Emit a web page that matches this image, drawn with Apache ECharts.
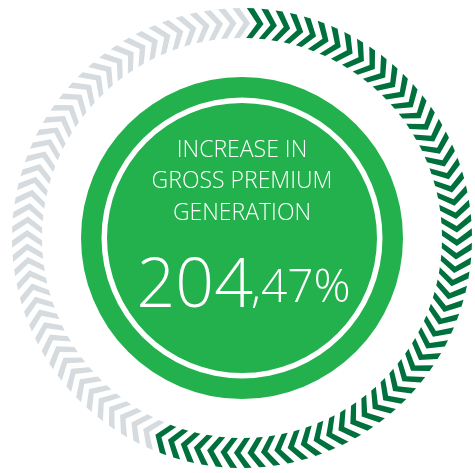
<!DOCTYPE html>
<html><head><meta charset="utf-8">
<script src="https://cdn.jsdelivr.net/npm/echarts@6/dist/echarts.min.js"></script>
<style>html,body{margin:0;padding:0;background:#fff;}#c{width:475px;height:473px;}</style>
</head><body><div id="c"></div>
<script>
// ---- data ----
const headlineLines = ['INCREASE IN', 'GROSS PREMIUM', 'GENERATION'];
const valueWhole = '204';
const valueFraction = ',47%';
const progressValue = 204.47;               // filled arc end (degrees clockwise from top)
const segmentStarts = [0, progressValue];
const segmentEnds = [progressValue, 360];
const segmentColors = ['#00703c', '#d5dbde'];

// ---- chevron pattern (style) ----
const chevronCount = 100;
const chevronPhase = 1.2;
const chevronThick = 1.75;   // degrees
const chevronDepth = 2.8;    // degrees
const rOut = 230, rIn = 200, rMid = 215;

const chart = echarts.init(document.getElementById('c'), null, {renderer: 'canvas'});
const cx = 242, cy = 238;

function renderSegment(params, api) {
  const from = api.value(0), to = api.value(1);
  const color = api.visual('color');
  const step = 360 / chevronCount;
  const children = [];
  for (let k = 0; k < chevronCount; k++) {
    const a = chevronPhase + k * step;
    const mid = (a + (chevronThick + chevronDepth) / 2) % 360;
    if (mid < from || mid >= to) continue;
    const t = chevronThick, d = chevronDepth;
    const pts = [
      [rOut, a], [rOut, a + t], [rMid, a + t + d],
      [rIn, a + t], [rIn, a], [rMid, a + d]
    ].map(p => api.coord(p));
    children.push({type: 'polygon', shape: {points: pts}, style: {fill: color}});
  }
  return {type: 'group', children: children};
}

const fontFam = '"Open Sans", sans-serif';
const option = {
  animation: false,
  polar: {center: [cx, cy], radius: rOut},
  angleAxis: {type: 'value', min: 0, max: 360, startAngle: 90, clockwise: true, show: false},
  radiusAxis: {type: 'value', min: 0, max: rOut, show: false},
  series: [
    {
      type: 'custom', coordinateSystem: 'polar', silent: true,
      renderItem: renderSegment,
      data: segmentStarts.map((s, i) => ({value: [s, segmentEnds[i]], itemStyle: {color: segmentColors[i]}}))
    },
    {
      type: 'pie', center: [cx, cy], radius: [0, 161], silent: true,
      label: {show: false}, labelLine: {show: false},
      itemStyle: {color: '#23b14d'}, data: [{value: 1}]
    },
    {
      type: 'pie', center: [cx, cy], radius: [135, 140.5], silent: true,
      label: {show: false}, labelLine: {show: false},
      itemStyle: {color: '#ffffff'}, data: [{value: 1}]
    }
  ],
  graphic: [
    ...headlineLines.map((txt, i) => ({
      type: 'text', x: cx, y: 150 + i * 31.5, z: 10,
      style: {text: txt, fill: '#ffffff', font: '300 23px ' + fontFam, align: 'center', verticalAlign: 'middle'}
    })),
    {type: 'text', x: 253, y: 254, z: 10,
     style: {text: valueWhole, fill: '#ffffff', font: '300 68px ' + fontFam, align: 'right', verticalAlign: 'top'}},
    {type: 'text', x: 251, y: 266, z: 10,
     style: {text: valueFraction, fill: '#ffffff', font: '300 46px ' + fontFam, align: 'left', verticalAlign: 'top'}}
  ]
};
chart.setOption(option);
</script>
</body></html>
